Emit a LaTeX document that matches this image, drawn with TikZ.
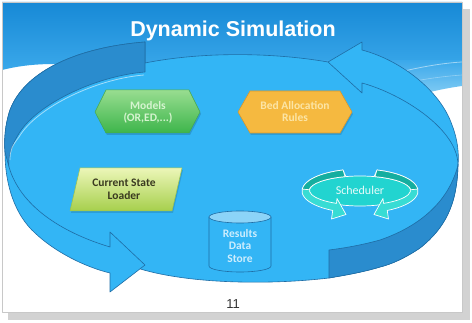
\documentclass[tikz,border=0pt]{standalone}
\usepackage{fontspec}
\setmainfont{Carlito}
\newfontfamily\arialfont{Liberation Sans}
\definecolor{face}{HTML}{33B5F5}
\definecolor{wall}{HTML}{2A8CCE}
\definecolor{outl}{HTML}{1F6DA5}
\definecolor{hdrtop}{HTML}{1789D6}
\definecolor{hdrbot}{HTML}{3AA8EA}
\definecolor{hdrlight}{HTML}{8FD2F6}
\definecolor{shadowgray}{HTML}{D2D2D2}
\definecolor{slideborder}{HTML}{C8C8C8}
\definecolor{grtop}{HTML}{98DD90}
\definecolor{grbot}{HTML}{3DB54B}
\definecolor{grdraw}{HTML}{45A84E}
\definecolor{grtext}{HTML}{D6F4D0}
\definecolor{orfill}{HTML}{F5B940}
\definecolor{ordraw}{HTML}{D8982C}
\definecolor{ortext}{HTML}{FCE5A6}
\definecolor{ygtop}{HTML}{ECF6B8}
\definecolor{ygbot}{HTML}{A6CF4C}
\definecolor{ygdraw}{HTML}{9CC34A}
\definecolor{ygtext}{HTML}{3A3A20}
\definecolor{cyltop}{HTML}{8CD4F8}
\definecolor{cyltext}{HTML}{CDEDFD}
\definecolor{sched}{HTML}{22D4D0}
\definecolor{scheddark}{HTML}{15AE9F}
\definecolor{schedlight}{HTML}{38DCD4}
\begin{document}
\begin{tikzpicture}[x=1pt,y=-1pt,line join=round,
  lbl/.style={inner sep=0pt, align=center, font=\bfseries\fontsize{11.5}{12}\selectfont},
  outline/.style={draw=outl, line width=0.6pt},
  schedline/.style={draw=white, line width=0.7pt}]
\useasboundingbox (0,0) rectangle (472,323);
% slide and shadow
\fill[shadowgray] (8,9) rectangle (470,320);
\fill[white] (2,2) rectangle (462,312);
% header
\shade[top color=hdrtop,bottom color=hdrbot] (2,2) -- (462,2) -- (462,68) -- (100,68) .. controls (60,62) and (30,63) .. (2,70) -- cycle;
\shade[top color=hdrbot,bottom color=hdrlight] (300,60) -- (462,60) -- (462,86) .. controls (440,89) and (420,94) .. (400,101) -- (300,101) -- cycle;
\draw[white,opacity=.5,line width=.8pt] (400,72) .. controls (425,66) and (445,63) .. (462,62);
\draw[white,opacity=.35,line width=.6pt] (410,82) .. controls (430,78) and (448,76) .. (462,75);
\draw[slideborder,line width=.6pt] (2,2) rectangle (462,312);
% disc silhouette
\filldraw[fill=face, outline] (145,42) -- (145,63) .. controls (200,52) and (270,52) .. (328,62)
  -- (362,42) -- (362,50) .. controls (400,60) and (440,90) .. (452,125)
  .. controls (458,140) and (459,155) .. (458,165)
  .. controls (457,205) and (445,228) .. (420,248) .. controls (405,258) and (392,264) .. (380,267)
  .. controls (360,273) and (340,276) .. (329,278)
  .. controls (270,285) and (190,284) .. (140,268.9) -- (110,292) -- (110,273)
  .. controls (85,267) and (55,252) .. (35,233) .. controls (15,215) and (5,185) .. (5,152)
  .. controls (4,140) and (5,125) .. (10,110) .. controls (25,70) and (80,47) .. (145,42) -- cycle;
% far inner wall of left arrow
\filldraw[fill=wall, outline] (145,42) .. controls (80,47) and (25,70) .. (10,110)
  .. controls (5,125) and (4,140) .. (5,152) -- (9,167)
  .. controls (8,160) and (10,148) .. (18,135) .. controls (35,105) and (95,76) .. (145,72) -- cycle;
\draw[white,opacity=.55,line width=.8pt] (10,160) .. controls (10,150) and (12,146) .. (19,137) .. controls (36,108) and (95,79) .. (144,75);
% near outer wall of right arrow
\filldraw[fill=wall, outline] (458,165) .. controls (457,205) and (445,228) .. (420,248)
  .. controls (405,258) and (392,264) .. (380,267) .. controls (360,273) and (340,276) .. (329,278)
  -- (329,250) .. controls (345,248) and (362,245) .. (380,240)
  .. controls (415,228) and (448,205) .. (458,165) -- cycle;
% inner edges and arrowheads
\draw[outline] (9,167) .. controls (20,205) and (60,232) .. (110,247) -- (110,232) -- (145,265) -- (140,268.9);
\draw[outline] (328,62) -- (362,93) -- (362,83) .. controls (395,92) and (440,118) .. (454,148)
  .. controls (457,155) and (458,160) .. (458,165);
% Models
\fill[black,opacity=.15] (96,114) -- (107,92) -- (190,92) -- (201,114) -- (190,135) -- (107,135) -- cycle;
\shadedraw[top color=grtop,bottom color=grbot,draw=grdraw,line width=.5pt] (95,112) -- (106,90) -- (189,90) -- (200,112) -- (189,133) -- (106,133) -- cycle;
\node[lbl, text=grtext] (models) at (148,112) {Models\\(OR,ED,...)};
% Bed allocation
\fill[black,opacity=.12] (239,114) -- (251,93) -- (341,93) -- (353,114) -- (341,135) -- (251,135) -- cycle;
\filldraw[fill=orfill, draw=ordraw, line width=.6pt] (238,112) -- (250,91) -- (340,91) -- (352,112) -- (340,133) -- (250,133) -- cycle;
\node[lbl, text=ortext] (bed) at (295,112) {Bed Allocation\\Rules};
% Current state loader
\fill[black,opacity=.12] (81,170) -- (183,170) -- (173,213) -- (71,213) -- cycle;
\shadedraw[top color=ygtop,bottom color=ygbot,draw=ygdraw,line width=.5pt] (80,168) -- (182,168) -- (172,211) -- (70,211) -- cycle;
\node[lbl, text=ygtext, font=\bfseries\fontsize{11.5}{13}\selectfont] (loader) at (124,189.5) {Current State\\Loader};
% Results data store
\filldraw[fill=face, outline] (209,217) -- (209,266) arc[start angle=180,end angle=0,x radius=31,y radius=6] -- (271,217) -- cycle;
\filldraw[fill=cyltop, outline] (240,217) ellipse[x radius=31,y radius=6];
\node[lbl, text=cyltext, font=\bfseries\fontsize{11.5}{12.5}\selectfont] (store) at (240,246) {Results\\Data\\Store};
% Scheduler
\filldraw[fill=sched, schedline] (360,191) ellipse[x radius=51, y radius=15];
\filldraw[fill=schedlight, schedline] (343.0,170.0) arc[start angle=253,end angle=118,x radius=58,y radius=22]
  -- (331.5,219) -- (346,214.5) -- (337,198.5) -- (336.5,203.4)
  arc[start angle=118,end angle=253,x radius=51,y radius=15] -- cycle;
\filldraw[fill=schedlight, schedline] (377.0,170.0) arc[start angle=287,end angle=422,x radius=58,y radius=22]
  -- (388.5,219) -- (374,214.5) -- (383,198.5) -- (383.5,203.4)
  arc[start angle=422,end angle=287,x radius=51,y radius=15] -- cycle;
\filldraw[fill=scheddark, schedline] (343.0,170.0) arc[start angle=253,end angle=185,x radius=58,y radius=22]
  -- (309.2,189.7) arc[start angle=185,end angle=253,x radius=51,y radius=15] -- cycle;
\filldraw[fill=scheddark, schedline] (377.0,170.0) arc[start angle=287,end angle=355,x radius=58,y radius=22]
  -- (410.8,189.7) arc[start angle=355,end angle=287,x radius=51,y radius=15] -- cycle;
\node[lbl, text=white!90!sched, font=\fontsize{12}{13}\selectfont] (scheduler) at (360,190) {Scheduler};
% title and page number
\node[font=\arialfont\bfseries\fontsize{21.5}{24}\selectfont, text=white, anchor=base, inner sep=0pt] (title) at (233,37) {Dynamic Simulation};
\node[font=\arialfont\fontsize{13}{14}\selectfont, text=black!80, anchor=base, inner sep=0pt] (pnum) at (233,309) {11};
\end{tikzpicture}
\end{document}
